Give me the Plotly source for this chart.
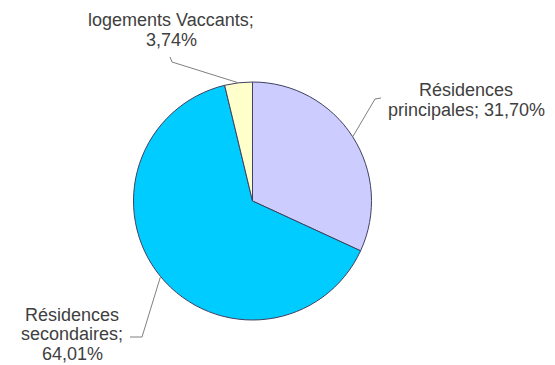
import math
import plotly.graph_objects as go

# Répartition des logements
categories = ["Résidences principales", "Résidences secondaires", "logements Vaccants"]
values = [31.70, 64.01, 3.74]
colors = ["#CCCCFF", "#00CCFF", "#FFFFCC"]

# how each data label is broken onto lines (display text only)
label_names = ["Résidences<br>principales", "Résidences<br>secondaires", "logements Vaccants"]
label_seps = ["; ", ";<br>", ";<br>"]

W, H = 555, 365
CX, CY, R = 252.5, 201.0, 119.0   # pie centre and radius in pixels

# label block centres and elbow points of the leader lines (pixels)
label_pos = [(466, 100), (72, 334), (171, 30)]
leader_elbows = [[(375, 99), (381, 98)], [(142, 337), (130, 337)], [(172, 62), (170, 57)]]

LINE_GAP = 19.5
FONT = dict(family="Liberation Sans, Arial, sans-serif", size=18, color="#404040")

fig = go.Figure()

fig.add_trace(go.Pie(
    labels=categories,
    values=values,
    sort=False,
    direction="clockwise",
    rotation=0,
    marker=dict(colors=colors, line=dict(color="#404060", width=1)),
    textinfo="none",
    hoverinfo="label+percent",
    showlegend=False,
    domain=dict(x=[(CX - R) / W, (CX + R) / W], y=[(H - CY - R) / H, (H - CY + R) / H]),
))

total = sum(values)
start = 0.0
shapes = []
annotations = []
for i, v in enumerate(values):
    frac = v / total
    mid = (start + frac / 2) * 2 * math.pi
    start += frac
    # point on the rim at the middle of the slice
    ex = CX + R * math.sin(mid)
    ey = CY - R * math.cos(mid)
    pts = [(ex, ey)] + leader_elbows[i]
    path = "M {} {} ".format(*pts[0]) + " ".join("L {} {}".format(x, y) for x, y in pts[1:])
    shapes.append(dict(type="path", path=path, xref="x", yref="y",
                       line=dict(color="#808080", width=1)))

    pct = f"{v:.2f}%".replace(".", ",")
    text = f"{label_names[i]}{label_seps[i]}{pct}"
    lines = text.split("<br>")
    lx, ly = label_pos[i]
    n = len(lines)
    for k, line in enumerate(lines):
        yk = ly + (k - (n - 1) / 2) * LINE_GAP
        annotations.append(dict(x=lx, y=yk, xref="x", yref="y", text=line,
                                showarrow=False, xanchor="center", yanchor="middle",
                                font=FONT))

fig.update_layout(
    width=W, height=H,
    margin=dict(l=0, r=0, t=0, b=0),
    paper_bgcolor="white", plot_bgcolor="rgba(0,0,0,0)",
    xaxis=dict(range=[0, W], visible=False, fixedrange=True),
    yaxis=dict(range=[H, 0], visible=False, fixedrange=True),
    shapes=shapes,
    annotations=annotations,
)

fig.write_html("out.html")
